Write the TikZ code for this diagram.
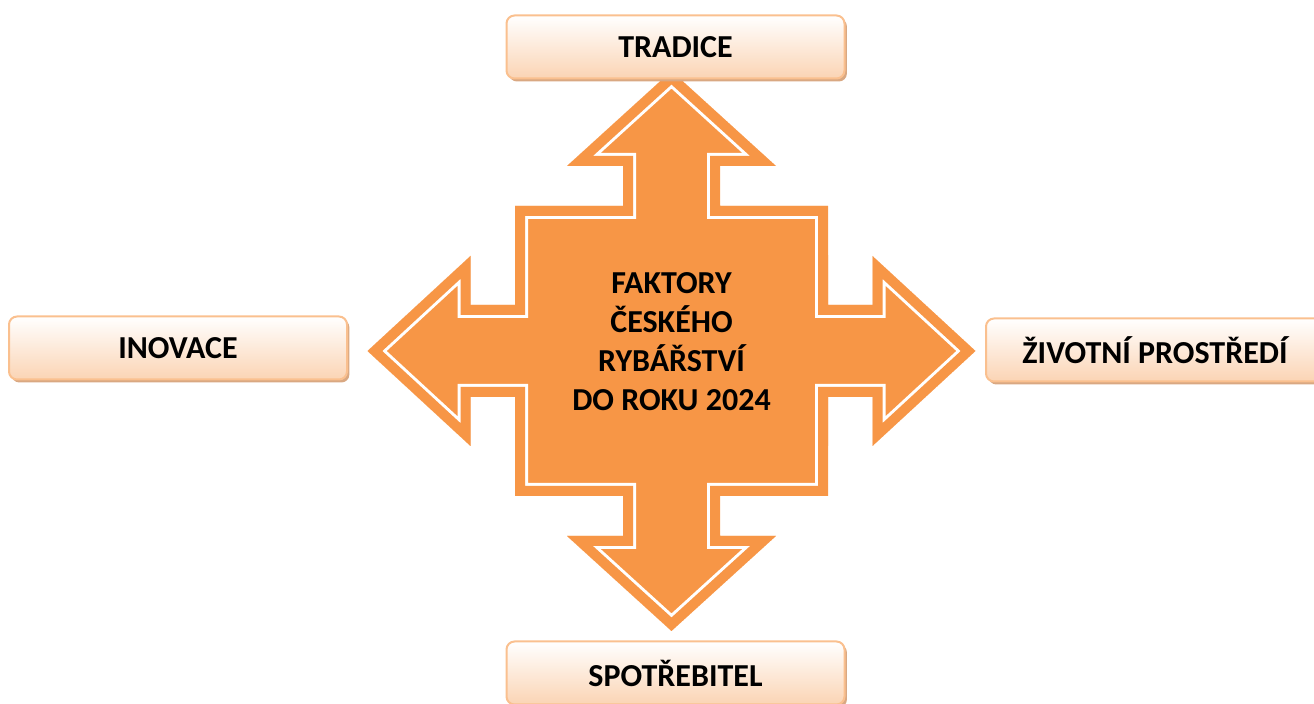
\documentclass[tikz,border=0pt]{standalone}
\usepackage{fontspec}
\setmainfont{Carlito}
\usetikzlibrary{positioning,shadows}
\definecolor{arroworange}{HTML}{F79646}
\definecolor{boxborder}{HTML}{FAC08F}
\definecolor{boxbottom}{HTML}{FBD4B4}
\definecolor{boxshadow}{HTML}{D9A882}
\newcommand{\quadarrow}{(671.5,71) -- (776,166) -- (720,166) -- (720,206)
  -- (828,206) -- (828,305) -- (872.5,305) -- (872.5,256) -- (975.5,351)
  -- (872.5,446) -- (872.5,397) -- (828,397) -- (828,496) -- (720,496)
  -- (720,536) -- (776,536) -- (671.5,631) -- (567,536) -- (623,536)
  -- (623,496) -- (515,496) -- (515,397) -- (470.5,397) -- (470.5,446)
  -- (367.5,351) -- (470.5,256) -- (470.5,305) -- (515,305) -- (515,206)
  -- (623,206) -- (623,166) -- (567,166) -- cycle}

\begin{document}
\begin{tikzpicture}[x=0.5pt,y=-0.5pt,
                       factor node/.style={rectangle,rounded corners=4pt,draw=boxborder,line width=1pt,
                         top color=white,bottom color=boxbottom,
                         drop shadow={shadow xshift=1.2pt,shadow yshift=-1.5pt,fill=boxshadow,opacity=1},
                         minimum width=169pt,minimum height=31.5pt,inner sep=0pt,
                         font=\fontsize{16}{19.5}\selectfont\bfseries},
                       title node/.style={align=center,inner sep=0pt,
                         font=\fontsize{16}{19.5}\selectfont\bfseries}
                      ]
  \useasboundingbox (0,0) rectangle (1314,704);
  \clip (0,0) rectangle (1314,704);
  % the quad arrow in the middle
  \begin{scope}
    \clip \quadarrow;
    \fill[arroworange] \quadarrow;
    \draw[white,line width=13pt] \quadarrow;
    \draw[arroworange,line width=10pt] \quadarrow;
  \end{scope}
  \node[title node] (title) at (671.5,342) {FAKTORY\\ČESKÉHO\\RYBÁŘSTVÍ\\DO ROKU 2024};
  % the four factors
  \node[factor node] (tradice) at (675.5,47) {TRADICE};
  \node[factor node] (inovace) at (178,348) {INOVACE};
  \node[factor node] (prostredi) at (1155,350) {ŽIVOTNÍ PROSTŘEDÍ};
  \node[factor node] (spotrebitel) at (675.5,673) {SPOTŘEBITEL};
\end{tikzpicture}
\end{document}
